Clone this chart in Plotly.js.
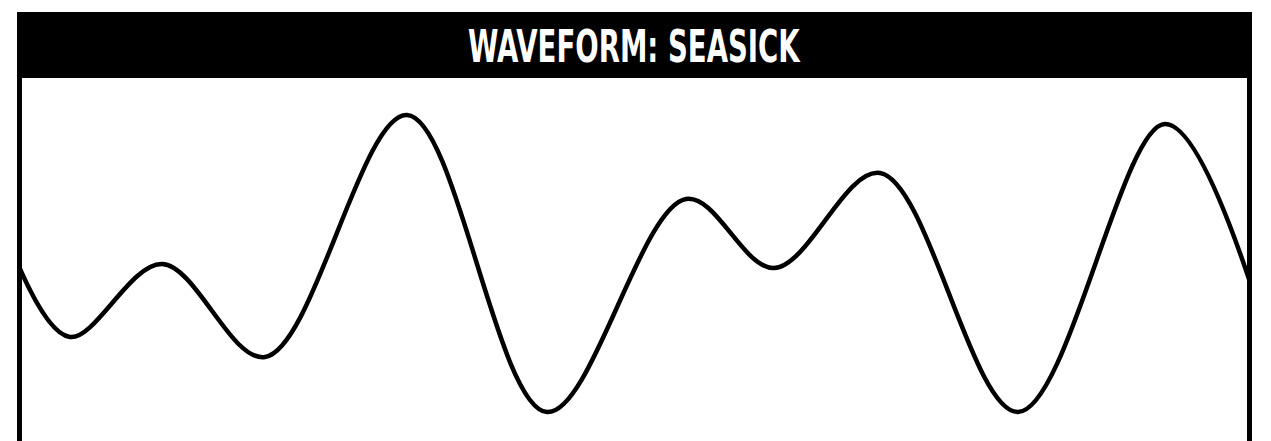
<!DOCTYPE html>
<html>
<head>
<meta charset="utf-8">
<script src="https://cdn.plot.ly/plotly-3.0.1.min.js"></script>
<style>
  html, body { margin: 0; padding: 0; background: #ffffff; }
  #chart { width: 1271px; height: 441px; }
</style>
</head>
<body>
<div id="chart"></div>
<script>
// Waveform turning points (time units, amplitude units)
const titleText = "WAVEFORM: SEASICK";
const time = [0, 50, 142, 245, 387, 527, 666, 754, 860, 998, 1145, 1230];
const amplitude = [-4, -72, 1, -92, 150, -147, 66, -3, 92, -147, 141, -17];

const trace = {
  x: time,
  y: amplitude,
  type: "scatter",
  mode: "lines",
  line: { color: "#000000", width: 4.5, shape: "spline", smoothing: 1 },
  hoverinfo: "skip",
  showlegend: false
};

const layout = {
  width: 1271,
  height: 441,
  margin: { l: 20, r: 21, t: 78, b: 0, pad: 0 },
  paper_bgcolor: "#ffffff",
  plot_bgcolor: "#ffffff",
  showlegend: false,
  xaxis: { range: [0, 1230], visible: false, showgrid: false, zeroline: false, fixedrange: true },
  yaxis: { range: [-176, 187], visible: false, showgrid: false, zeroline: false, fixedrange: true },
  shapes: [
    { type: "rect", xref: "paper", yref: "paper",
      x0: -3/1230, x1: 1232/1230, y0: 1.0, y1: 429/363,
      fillcolor: "#000000", line: { width: 0 }, layer: "above" },
    { type: "line", xref: "paper", yref: "paper",
      x0: -0.5/1230, x1: -0.5/1230, y0: -0.05, y1: 1.0,
      line: { color: "#000000", width: 5 }, layer: "above" },
    { type: "line", xref: "paper", yref: "paper",
      x0: 1229.5/1230, x1: 1229.5/1230, y0: -0.05, y1: 1.0,
      line: { color: "#000000", width: 5 }, layer: "above" }
  ],
  annotations: [
    { text: "<b>" + titleText + "</b>", xref: "paper", yref: "paper",
      x: 614/1230, y: 395/363, xanchor: "center", yanchor: "middle",
      showarrow: false,
      font: { family: "DejaVu Sans Condensed, DejaVu Sans, sans-serif", size: 45, color: "#ffffff" } }
  ]
};

Plotly.newPlot("chart", [trace], layout, { staticPlot: true, displayModeBar: false }).then(function (gd) {
  const t = gd.querySelector(".annotation-text");
  if (t && t.getBBox) {
    const bb = t.getBBox();
    const s = bb.width > 0 ? 333 / bb.width : 1;
    t.style.transformBox = "fill-box";
    t.style.transformOrigin = "center";
    t.style.transform = "scaleX(" + s.toFixed(3) + ")";
  }
});
</script>
</body>
</html>
